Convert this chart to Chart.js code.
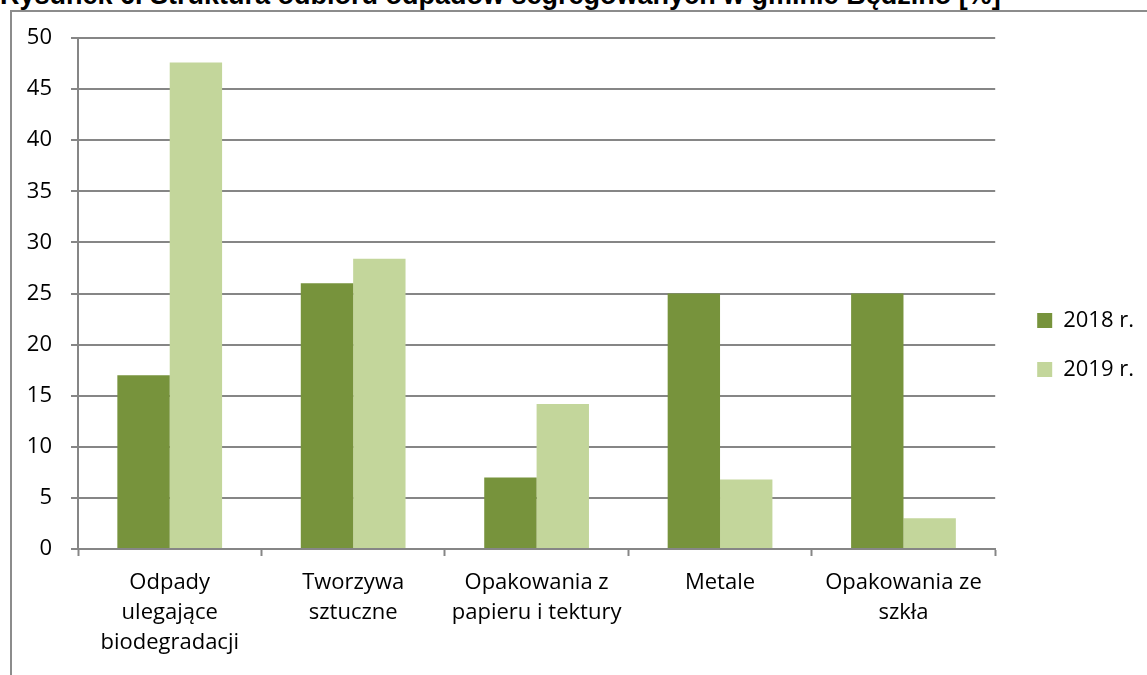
<!DOCTYPE html>
<html><head><meta charset="utf-8">
<script src="https://cdn.jsdelivr.net/npm/chart.js@4"></script>
<style>
html,body{margin:0;padding:0;background:#fff;width:1147px;height:675px;overflow:hidden;position:relative;}
#title{position:absolute;left:0;top:-20px;font-family:"Liberation Sans",Arial,sans-serif;font-weight:bold;font-size:27px;white-space:nowrap;color:#000;}
#frame{position:absolute;left:10px;top:10px;width:1200px;height:700px;border-left:2px solid #8c8c8c;border-top:2px solid #8c8c8c;}
#wrap{position:absolute;left:12px;top:12px;width:1135px;height:663px;}
</style></head>
<body>
<div id="title">Rysunek 6. Struktura odbioru odpadów segregowanych w gminie Będzino [%]</div>
<div id="frame"></div>
<div id="wrap"><canvas id="c"></canvas></div>
<script>
const categories = [
  ["Odpady", "ulegające", "biodegradacji"],
  ["Tworzywa", "sztuczne"],
  ["Opakowania z", "papieru i tektury"],
  ["Metale"],
  ["Opakowania ze", "szkła"]
];
const seriesNames = ["2018 r.", "2019 r."];
const values2018 = [17, 26, 7, 25, 25];
const values2019 = [47.6, 28.4, 14.2, 6.8, 3];
const yTicks = { min: 0, max: 50, step: 5 };

const FONT = "'Open Sans', Lato, sans-serif";
new Chart(document.getElementById('c'), {
  type: 'bar',
  data: {
    labels: categories,
    datasets: [
      { label: seriesNames[0], data: values2018, backgroundColor: '#77933C', borderWidth: 0 },
      { label: seriesNames[1], data: values2019, backgroundColor: '#C3D69B', borderWidth: 0 }
    ]
  },
  options: {
    responsive: true,
    maintainAspectRatio: false,
    animation: false,
    devicePixelRatio: 1,
    layout: { padding: { top: 3, right: 3, left: 0, bottom: 0 } },
    categoryPercentage: 0.571,
    barPercentage: 1.0,
    plugins: {
      title: {
        display: true, text: ' ', position: 'top', fullSize: false,
        font: { size: 1, lineHeight: 1 }, padding: { top: 22, bottom: 0 }
      },
      subtitle: {
        display: true, text: ' ', position: 'right', fullSize: false, weight: 0,
        font: { size: 1, lineHeight: 1 }, padding: 7
      },
      legend: {
        position: 'right',
        labels: {
          font: { family: FONT, size: 22 },
          color: '#000',
          boxWidth: 15,
          boxHeight: 15,
          padding: 27
        }
      },
      tooltip: { enabled: false }
    },
    scales: {
      x: {
        grid: { display: true, drawOnChartArea: false, offset: true, color: '#868686', tickLength: 7, tickWidth: 2 },
        border: { display: true, color: '#868686', width: 2 },
        ticks: { font: { family: FONT, size: 22, lineHeight: 1.36 }, color: '#000', maxRotation: 0, padding: 12 },
        afterFit: s => { s.height = 126; }
      },
      y: {
        min: yTicks.min, max: yTicks.max,
        ticks: { stepSize: yTicks.step, font: { family: FONT, size: 22, lineHeight: 0.6 }, color: '#000', padding: 19 },
        grid: { color: '#868686', lineWidth: 2, tickLength: 7 },
        border: { display: true, color: '#868686', width: 2 },
        afterFit: s => { s.width = 66; }
      }
    }
  }
});
</script>
</body></html>
